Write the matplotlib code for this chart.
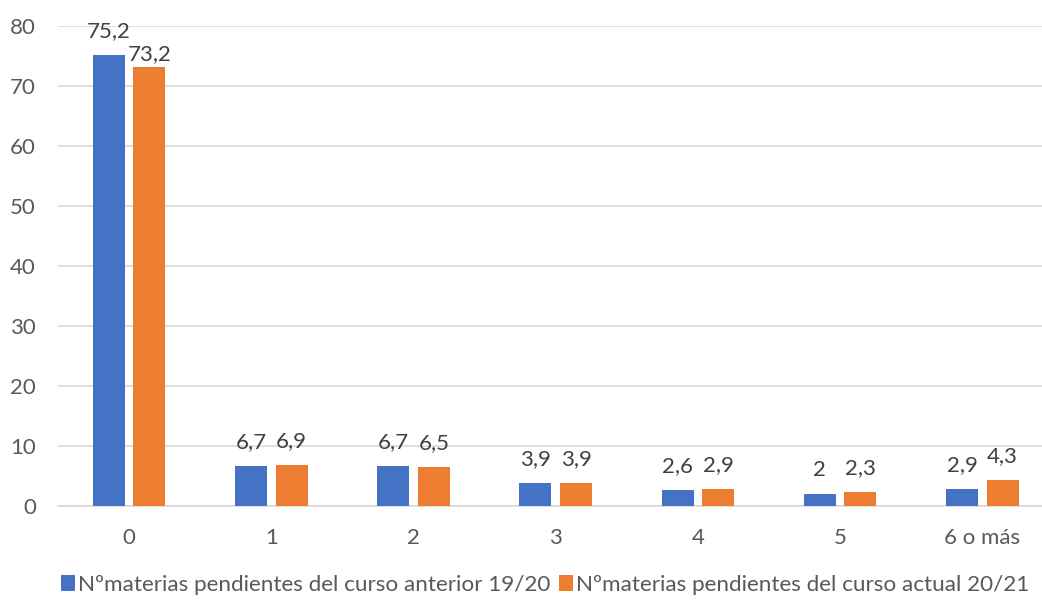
import numpy as np
import matplotlib.pyplot as plt

categorias = ["0", "1", "2", "3", "4", "5", "6 o más"]
curso_anterior = [75.2, 6.7, 6.7, 3.9, 2.6, 2.0, 2.9]
curso_actual = [73.2, 6.9, 6.5, 3.9, 2.9, 2.3, 4.3]
nombres = ["Nºmaterias pendientes del curso anterior 19/20",
           "Nºmaterias pendientes del curso actual 20/21"]

plt.rcParams['font.family'] = ['Lato', 'DejaVu Sans']

fig = plt.figure(figsize=(10.42, 6.0), dpi=100)
ax = fig.add_axes([58 / 1042, 94 / 600, 1 - 58 / 1042, 480 / 600])

x = np.arange(len(categorias))
w = 0.225
off = 0.143
b1 = ax.bar(x - off, curso_anterior, w, color="#4472C4", label=nombres[0], zorder=3)
b2 = ax.bar(x + off, curso_actual, w, color="#ED7D31", label=nombres[1], zorder=3)

def etiqueta(v):
    s = ("%.1f" % v).replace(".", ",")
    return s[:-2] if s.endswith(",0") else s

for desp, vals in [(-off, curso_anterior), (off, curso_actual)]:
    for i, v in enumerate(vals):
        # la etiqueta 73,2 va mas pegada a su barra, como en el original
        pad = 2 if v == 73.2 else 10
        ax.annotate(etiqueta(v), (x[i] + desp, v), xytext=(0, pad),
                    textcoords="offset points", ha="center", va="bottom",
                    fontsize=16, color="#404040")

ax.set_xlim(-0.5, 6.42)
ax.set_ylim(0, 80)
ax.set_yticks(range(0, 81, 10))
ax.set_xticks(x)
ax.set_xticklabels(categorias)
ax.tick_params(axis="both", length=0, labelsize=16, labelcolor="#595959")
ax.tick_params(axis="x", pad=16)
ax.tick_params(axis="y", pad=16)
ax.grid(axis="y", color="#D9D9D9", linewidth=1.2, zorder=0)
for s in ["top", "right", "left"]:
    ax.spines[s].set_visible(False)
ax.spines["bottom"].set_color("#D9D9D9")
ax.spines["bottom"].set_linewidth(1.2)

fig.legend(loc="center left", bbox_to_anchor=(52 / 1042, 15 / 600), ncol=2, frameon=False,
           fontsize=16.2, labelcolor="#595959", handlelength=0.6, handleheight=0.7,
           handletextpad=0.15, columnspacing=0.4, borderaxespad=0.0)

plt.savefig("out.png", dpi=100)
